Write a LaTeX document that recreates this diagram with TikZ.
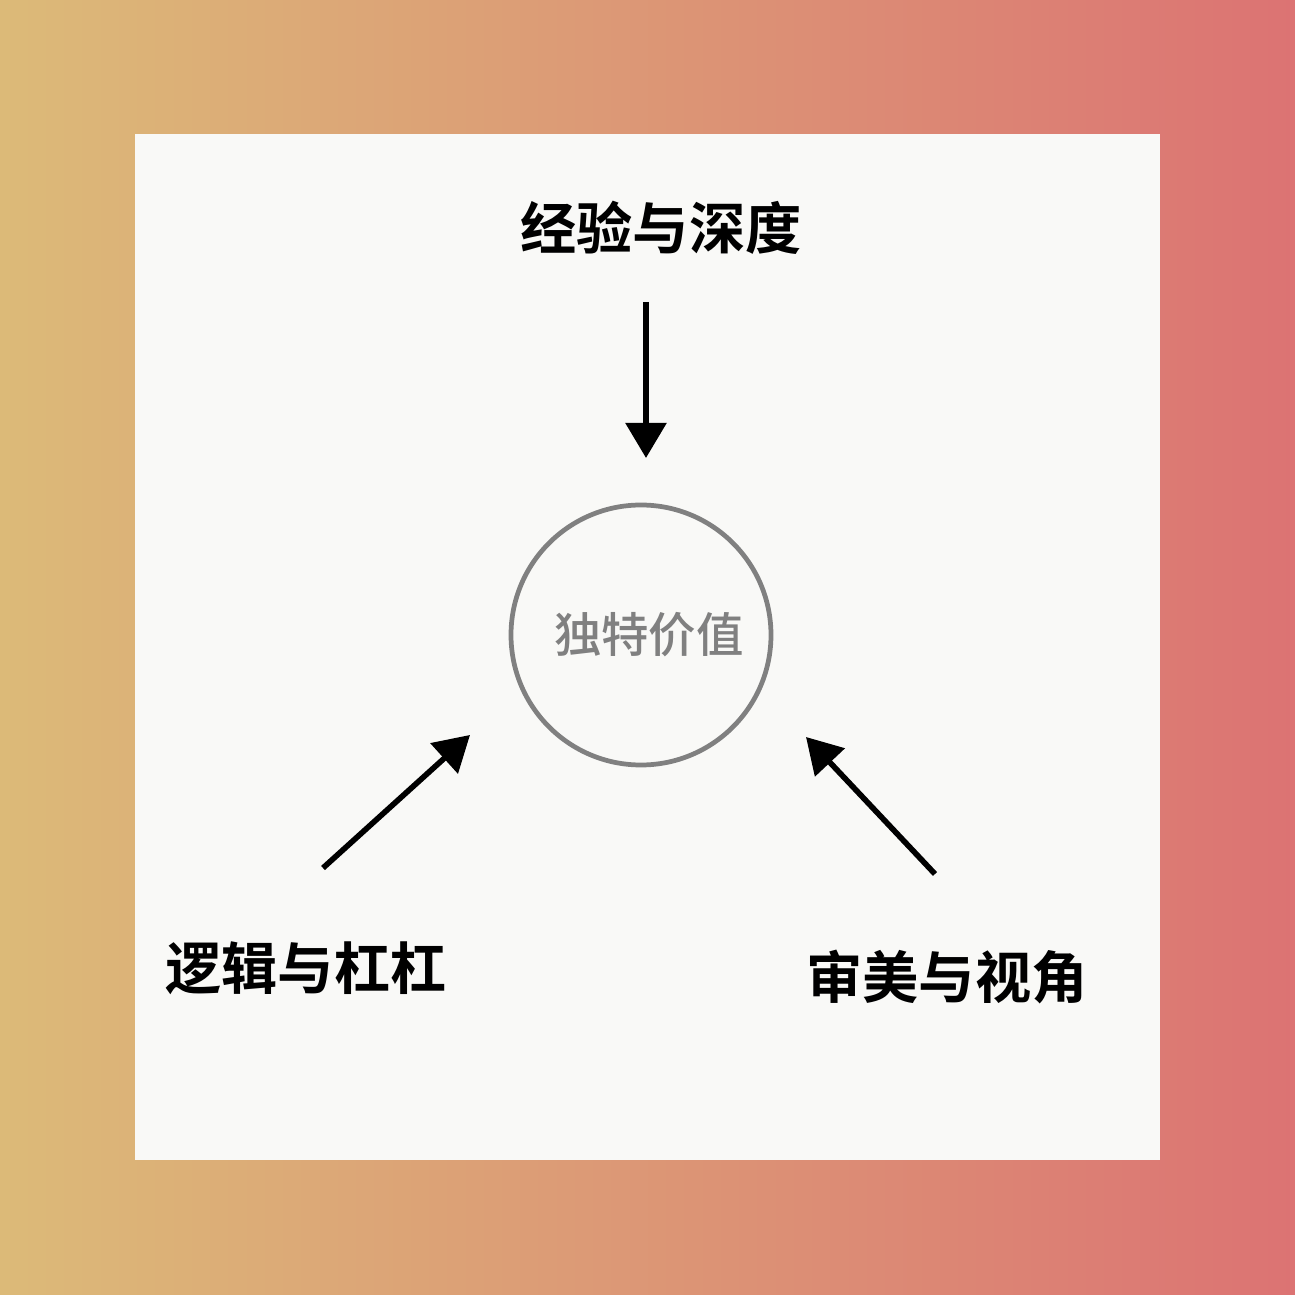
\documentclass[tikz,border=0pt]{standalone}
\usepackage{fontspec}
\newfontfamily\cjk{Noto Sans CJK SC}[BoldFont={Noto Sans CJK SC Bold}]
\newfontfamily\cjkmid{Noto Sans CJK SC Medium}
\usetikzlibrary{arrows.meta}
\definecolor{warmleft}{RGB}{220,186,120}
\definecolor{warmright}{RGB}{220,115,115}
\definecolor{panel}{RGB}{249,249,247}
\definecolor{ringgray}{RGB}{128,128,128}
\tikzset{
  label/.style={font=\cjk\bfseries\fontsize{16}{16}\selectfont, text=black},
  pointer/.style={line width=1.6pt, -{Triangle[length=0.35cm,width=0.40cm]}}
}
\begin{document}
\begin{tikzpicture}
	\shade[left color=warmleft,right color=warmright] (0,0) rectangle (12.95,12.95);
	\useasboundingbox (0,0) rectangle (12.95,12.95);
	\fill[panel] (1.35,1.35) rectangle (11.60,11.61);
	% centre
	\node[circle,draw=ringgray,line width=1.35pt,minimum size=2.6cm] (core) at (6.41,6.60) {};
	\node[font=\cjkmid\fontsize{13.5}{13.5}\selectfont,text=ringgray] (value) at (6.49,6.60) {独特价值};
	% three sources
	\node[label] (depth) at (6.61,10.67) {经验与深度};
	\node[label] (logic) at (3.06,3.27) {逻辑与杠杠};
	\node[label] (taste) at (9.47,3.18) {审美与视角};
	\coordinate (depthA) at (6.46,9.93);
	\coordinate (depthB) at (6.46,8.37);
	\coordinate (logicA) at (3.23,4.27);
	\coordinate (logicB) at (4.70,5.60);
	\coordinate (tasteA) at (9.35,4.21);
	\coordinate (tasteB) at (8.06,5.58);
	\draw[pointer] (depthA) -- (depthB);
	\draw[pointer] (logicA) -- (logicB);
	\draw[pointer] (tasteA) -- (tasteB);
\end{tikzpicture}
\end{document}
